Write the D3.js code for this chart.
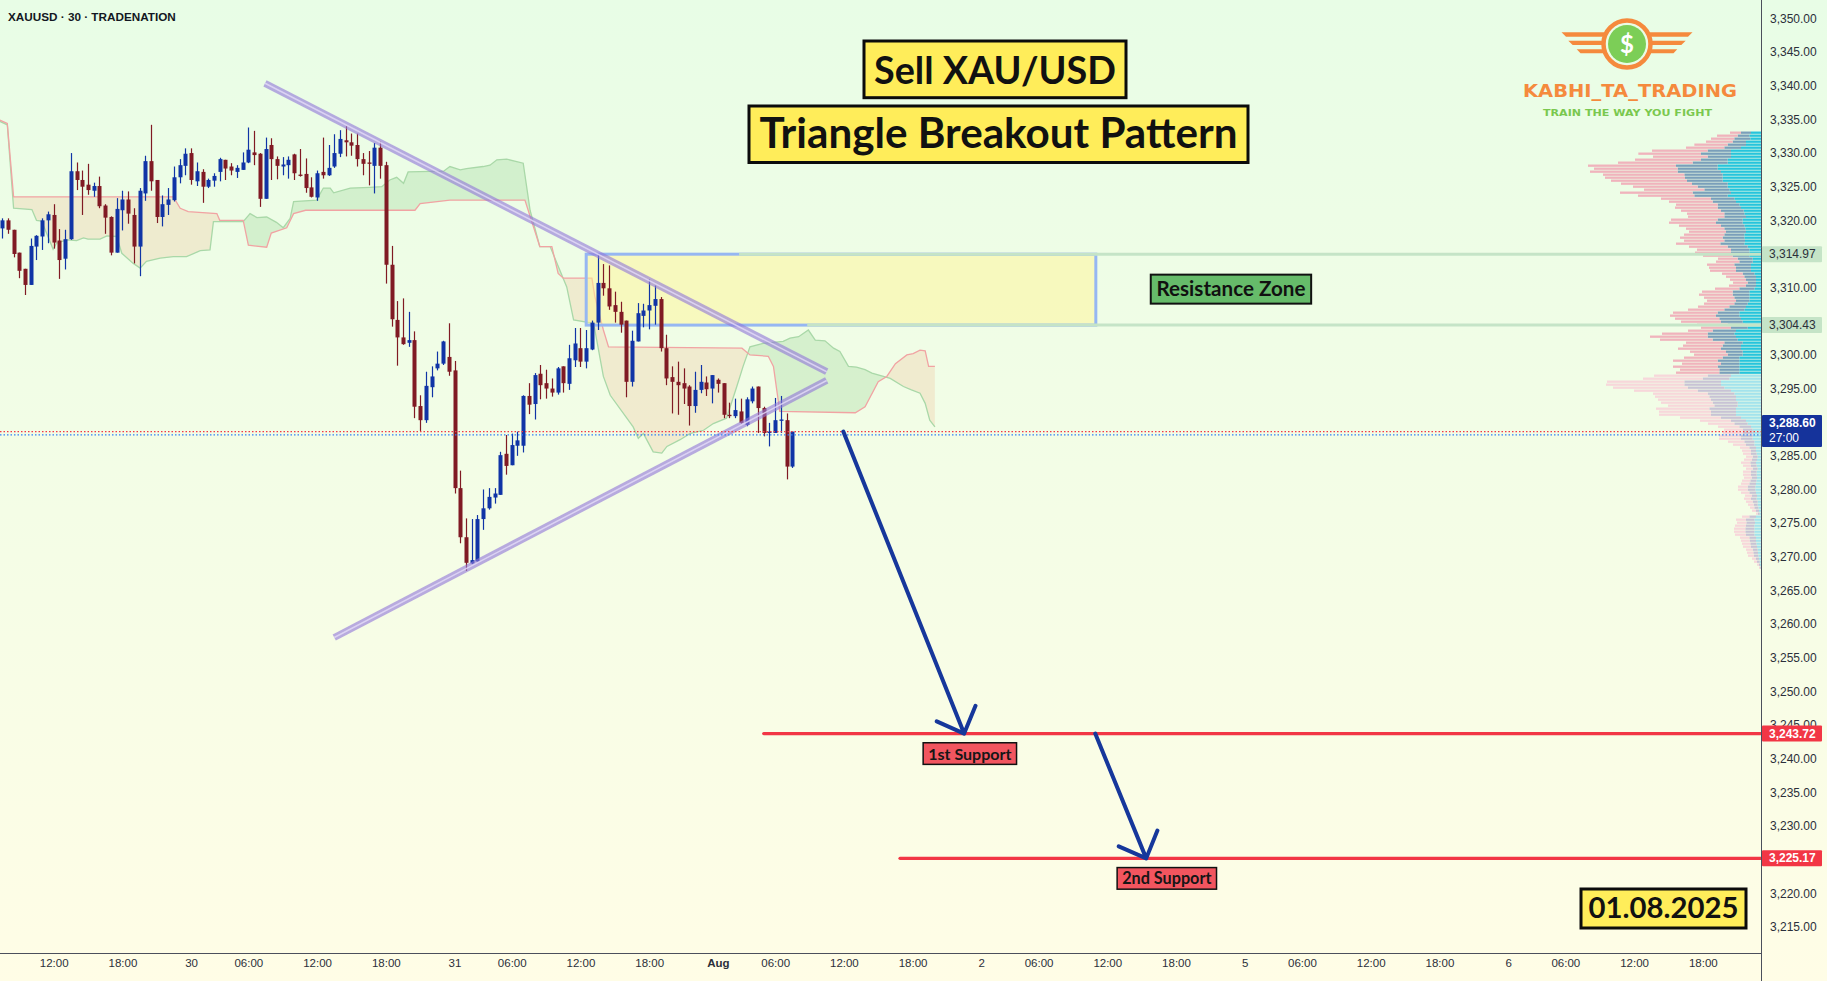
<!DOCTYPE html>
<html>
<head>
<meta charset="utf-8">
<script src="https://cdn.jsdelivr.net/npm/d3@7"></script>
<style>
  html, body { margin: 0; padding: 0; overflow: hidden; background: #fff; }
  svg { display: block; }
</style>
</head>
<body>
<svg id="chart" width="1827" height="981"></svg>
<script>
// ---- data ----
const firstBar = -33; // bar index of the first candle, 0 = start of the "30" session

const candleOpen = [
  3318.8,3320.0,3318.6,3315.2,3312.8,3310.4,3316.1,3317.6,3320.0,3320.8,
  3317.0,3314.3,3317.2,3327.3,3326.0,3325.3,3324.4,3325.1,3322.2,3320.5,
  3315.2,3321.5,3323.1,3320.8,3316.1,3324.0,3328.8,3326.0,3320.5,3322.3,
  3323.0,3326.4,3328.1,
  3330.0,3325.8,3327.2,3325.0,3325.9,3327.2,3329.0,3328.0,3327.2,3327.5,
  3328.6,3330.1,3329.9,3323.2,3331.2,3329.1,3328.0,3328.2,3329.8,3326.8,
  3326.9,3324.9,3323.4,3327.2,3326.7,3328.0,3329.9,3331.9,3331.6,3331.2,
  3329.1,3328.6,3328.1,3330.8,3328.2,3313.4,3305.2,3302.6,3301.8,3302.2,
  3292.4,3290.3,3295.2,3298.0,3298.7,3299.7,3297.7,3280.2,3272.9,3269.0,
  3269.3,3275.6,3277.2,3278.8,3279.2,3285.3,3283.6,3286.5,3286.5,3293.9,
  3292.7,3297.2,3295.8,3295.0,3294.4,3298.3,3295.7,3299.2,3301.0,3299.0,
  3300.8,3304.8,3310.7,3309.9,3307.4,3306.4,3305.1,3296.0,3302.0,3305.8,
  3306.6,3307.3,3308.3,3301.0,3296.7,3296.0,3295.8,3295.3,3292.4,3294.8,
  3295.9,3295.0,3296.3,3295.8,3291.1,3290.9,3291.6,3289.6,3293.1,3295.3,
  3292.1,3288.4,3288.4,3290.2,3290.3,3283.4
];
const candleHigh = [
  3320.3,3320.3,3318.6,3315.2,3312.8,3317.3,3317.8,3320.3,3321.3,3322.4,
  3318.7,3318.6,3330.0,3328.6,3327.4,3328.4,3325.6,3326.5,3322.4,3320.6,
  3323.3,3324.4,3324.3,3321.8,3324.8,3329.6,3334.2,3326.0,3323.7,3324.8,
  3328.0,3329.1,3330.7,
  3330.7,3328.6,3327.6,3326.2,3327.0,3329.3,3329.0,3328.5,3328.2,3330.1,
  3333.8,3333.3,3330.0,3332.3,3332.2,3329.5,3329.4,3329.5,3329.9,3330.6,
  3329.2,3326.4,3327.4,3332.3,3331.2,3332.8,3333.4,3334.0,3332.9,3332.9,
  3330.0,3330.3,3331.5,3331.7,3328.7,3316.2,3308.0,3308.4,3306.4,3303.5,
  3294.0,3297.5,3298.3,3300.5,3302.1,3304.7,3299.1,3282.8,3275.7,3275.6,
  3276.2,3280.0,3280.2,3280.2,3285.6,3288.1,3288.3,3288.6,3294.0,3295.8,
  3297.3,3298.5,3297.8,3296.5,3298.2,3298.3,3301.5,3304.0,3304.0,3303.7,
  3305.1,3314.9,3313.5,3313.3,3309.4,3307.9,3305.1,3303.6,3307.7,3307.6,
  3311.2,3310.3,3308.6,3303.0,3298.3,3299.0,3298.0,3295.5,3297.5,3298.5,
  3296.8,3297.0,3296.5,3295.8,3292.9,3293.5,3293.5,3293.7,3295.3,3295.3,
  3292.3,3289.9,3293.6,3293.9,3291.3,3288.6
];
const candleLow = [
  3317.3,3318.0,3314.5,3311.4,3308.9,3310.4,3314.1,3315.6,3316.6,3315.8,
  3311.3,3312.7,3317.1,3324.5,3320.8,3323.8,3323.5,3321.8,3318.0,3314.8,
  3315.2,3318.5,3319.5,3313.6,3311.7,3322.9,3324.4,3319.6,3319.1,3320.8,
  3322.8,3325.5,3326.7,
  3325.3,3325.1,3322.6,3324.8,3325.0,3325.8,3326.0,3326.7,3326.3,3327.5,
  3328.5,3328.2,3322.0,3323.2,3326.0,3326.1,3326.7,3326.2,3326.0,3326.5,
  3324.1,3323.4,3322.9,3326.2,3326.6,3327.8,3329.4,3329.5,3329.6,3328.0,
  3326.7,3325.2,3324.0,3326.2,3310.6,3304.2,3298.4,3301.5,3301.2,3290.6,
  3288.7,3289.9,3293.7,3297.7,3298.5,3296.9,3279.4,3272.0,3267.9,3268.9,
  3269.3,3274.0,3277.0,3277.9,3279.2,3282.2,3283.6,3285.0,3285.5,3291.2,
  3290.4,3293.4,3293.5,3293.8,3294.1,3294.4,3294.8,3298.2,3298.2,3298.0,
  3300.7,3303.7,3308.8,3306.7,3304.8,3303.3,3293.7,3295.3,3302.0,3304.1,
  3303.8,3304.5,3300.5,3295.5,3291.3,3291.1,3292.7,3289.5,3291.4,3294.3,
  3293.9,3292.8,3294.4,3290.6,3290.6,3290.6,3289.8,3289.4,3292.8,3288.4,
  3287.9,3286.4,3288.4,3288.4,3281.5,3283.2
];
const candleClose = [
  3320.0,3318.6,3315.0,3312.5,3310.4,3316.2,3317.7,3320.0,3320.9,3316.7,
  3314.1,3317.2,3327.3,3326.0,3325.0,3324.5,3325.1,3322.1,3320.4,3315.2,
  3321.7,3323.1,3321.0,3316.1,3324.4,3328.8,3325.8,3320.5,3322.4,3323.1,
  3326.4,3328.2,3329.9,
  3326.0,3327.3,3325.0,3326.0,3326.6,3329.1,3327.7,3327.4,3327.8,3328.6,
  3330.5,3329.7,3323.2,3330.6,3329.1,3328.1,3328.3,3329.0,3327.0,3326.6,
  3324.8,3323.5,3327.0,3326.7,3327.8,3330.0,3332.1,3331.6,3331.1,3329.1,
  3328.4,3328.4,3330.8,3328.1,3313.4,3305.3,3302.6,3301.6,3302.2,3292.3,
  3290.3,3295.4,3296.8,3298.7,3302.0,3297.5,3280.2,3272.9,3269.1,3269.5,
  3275.6,3277.2,3278.9,3279.4,3285.1,3283.5,3286.6,3287.3,3293.9,3292.6,
  3297.0,3295.5,3295.0,3294.4,3298.0,3295.8,3299.5,3301.7,3299.0,3301.0,
  3304.8,3310.7,3309.9,3307.2,3306.4,3304.5,3296.0,3302.1,3306.2,3306.6,
  3307.4,3308.3,3301.0,3296.5,3296.0,3295.5,3295.0,3292.4,3294.8,3296.0,
  3294.9,3297.0,3295.7,3291.1,3290.9,3291.8,3289.9,3293.4,3295.0,3292.1,
  3288.4,3288.6,3290.3,3290.4,3283.4,3288.6
];

// Ichimoku cloud edges as [bar, price] vertices
const spanA = [
  [-33.4,3334.7],[-32.1,3334.2],[-31.0,3321.8],[-27.8,3321.6],[-27.0,3320.0],[-26.1,3319.9],
  [-24.1,3315.7],[-23.5,3316.6],[-21.7,3317.1],[-20.0,3317.0],[-18.8,3317.4],[-18.0,3317.2],
  [-15.9,3317.2],[-14.7,3317.7],[-13.0,3317.6],[-12.1,3315.1],[-10.1,3313.6],[-8.9,3312.9],
  [-7.8,3313.9],[-5.4,3314.4],[-3.1,3314.6],[-0.8,3314.6],[1.6,3315.5],[3.3,3315.6],
  [3.9,3319.8],[9.1,3319.8],[10.3,3321.0],[11.5,3320.4],[13.2,3320.5],[14.9,3319.7],
  [16.1,3318.9],[17.3,3320.3],[17.9,3322.8],[21.9,3323.0],[23.1,3324.8],[24.3,3324.8],
  [24.9,3324.1],[27.8,3324.8],[31.2,3324.9],[33.3,3325.0],[34.7,3326.0],[35.9,3326.4],
  [37.1,3325.5],[37.9,3327.2],[44.1,3327.3],[45.2,3328.0],[47.0,3327.5],[48.1,3327.7],
  [51.0,3328.0],[52.2,3328.2],[53.4,3329.0],[55.1,3329.1],[58.0,3328.5],[59.2,3321.5],
  [60.9,3316.1],[62.7,3316.1],[65.6,3310.1],[66.8,3305.2],[70.3,3304.7],[72.0,3296.8],
  [73.2,3294.0],[77.2,3289.3],[78.1,3287.6],[79.0,3288.3],[80.7,3285.6],[82.2,3285.4],
  [83.1,3286.4],[85.4,3287.4],[87.1,3288.3],[89.5,3288.8],[91.2,3289.8],[93.5,3290.6],
  [95.3,3295.3],[96.4,3298.3],[97.6,3301.2],[99.9,3301.7],[103.4,3302.0],[104.6,3302.5],
  [106.1,3302.7],[107.8,3303.7],[109.0,3302.2],[110.7,3302.1],[112.2,3301.0],[113.3,3300.5],
  [114.8,3298.3],[116.2,3298.2],[117.7,3297.8],[118.9,3297.3],[120.9,3296.8],[122.1,3296.5],
  [124.4,3295.3],[125.8,3294.8],[127.3,3294.3],[128.2,3292.8],[129.0,3290.3],[129.9,3289.3]
];
const spanB = [
  [-33.4,3334.9],[-32.1,3334.4],[-31.0,3323.5],[-3.1,3323.5],[-1.9,3321.8],[-0.5,3321.3],
  [4.5,3321.0],[5.0,3320.0],[9.1,3320.0],[10.0,3316.3],[13.2,3316.0],[14.0,3318.1],
  [16.7,3318.9],[17.9,3321.0],[20.0,3321.5],[39.1,3321.5],[40.0,3322.5],[45.2,3323.0],
  [58.3,3323.0],[59.2,3320.6],[60.9,3316.1],[63.0,3316.1],[64.1,3312.1],[65.0,3311.4],
  [70.0,3311.4],[70.5,3308.7],[72.0,3303.7],[72.9,3301.2],[96.2,3301.0],[97.6,3300.0],
  [100.8,3299.8],[101.7,3298.3],[102.8,3291.6],[116.0,3291.4],[117.7,3292.3],[120.0,3296.0],
  [121.5,3296.8],[123.0,3298.7],[125.0,3300.0],[126.1,3300.2],[127.3,3300.7],[128.2,3300.6],
  [128.8,3298.3],[129.9,3298.3]
];

// volume profile rows (top row price, row step) and volumes per row
const vpTopPrice = 3333.03;
const vpRowStep = 0.4459;
const vpValueAreaRows = 81;
const vpDown = [
  33,62,70,80,100,115,167,188,164,198, 224,264,251,263,244,240,228,213,194,181,
  218,169,150,131,125,128,120,112,109,140, 141,126,115,111,121,128,121,133,116,102,
  108,89,59,70,82,81,78,62,55,48, 44,51,73,92,101,91,87,91,94,109,
  134,138,133,120,92,90,74,137,173,158, 115,119,129,108,101,116,134,117,134,118,
  130,161,179,232,235,224,191,164,163,159, 155,139,160,156,156,123,93,79,64,56,
  59,66,66,49,39,28,27,24,20,24, 28,24,20,24,24,23,25,25,29,29,
  25,21,21,20,17,13,12,5,22,30, 28,33,34,34,33,28,26,25,24,20,
  19,18,12,9,5,3
];
const vpMid = [
  30,35,48,40,55,50,70,90,70,80, 105,125,120,130,115,113,107,107,90,75,
  115,100,70,70,65,70,68,60,65,75, 80,70,63,60,60,65,62,72,60,55,
  55,50,45,40,50,45,45,35,35,30, 25,30,45,50,50,45,40,40,50,60,
  65,70,65,65,50,50,70,80,85,75, 55,55,60,50,45,50,65,55,65,60,
  60,70,80,110,110,110,100,80,80,75, 75,70,80,75,75,60,45,40,35,30,
  30,35,35,30,25,20,15,17,15,15, 17,17,15,17,17,16,18,20,23,23,
  20,15,17,15,12,12,9,6,20,25, 26,25,27,27,25,20,19,18,18,15,
  14,13,9,8,4,2
];
const vpUp = [
  30,35,32,45,45,60,90,90,90,100, 100,130,130,120,115,115,115,100,100,95,
  90,100,80,75,65,60,52,50,45,55, 55,50,47,45,50,50,48,50,40,35,
  35,35,25,25,30,30,30,20,15,15, 15,15,20,35,35,35,35,40,45,50,
  65,65,60,55,50,40,75,80,75,70, 55,60,60,55,55,65,65,65,65,65,
  65,90,95,120,120,110,90,80,75,75, 70,70,75,75,75,60,45,40,30,25,
  25,25,25,20,20,15,15,13,10,12, 15,13,10,13,13,12,14,15,17,17,
  15,12,13,10,10,8,6,4,15,20, 18,20,20,20,20,15,15,14,12,10,
  9,8,6,4,3,1
];

// time axis
const tickBars = [-24,-12,0,10,22,34,46,56,68,80,92,102,114,126,138,148,160,172,184,194,206,218,230,240,252,264];
const tickLabels = ["12:00","18:00","30","06:00","12:00","18:00","31","06:00","12:00","18:00","Aug","06:00",
  "12:00","18:00","2","06:00","12:00","18:00","5","06:00","12:00","18:00","6","06:00","12:00","18:00"];

// price axis
const priceTicks = [3215,3220,3225,3230,3235,3240,3245,3250,3255,3260,3265,3270,3275,3280,3285,
  3290,3295,3300,3305,3310,3315,3320,3325,3330,3335,3340,3345,3350];

// drawings
const lastPrice = 3288.60;
const countdown = "27:00";
const zoneTop = 3314.97, zoneBottom = 3304.43;
const zoneBars = [69, 158];
const zoneRayFrom = [95.7, 107.6];
const upperTrend = [[12.9, 3340.37], [111.0, 3297.5]];
const lowerTrend = [[25.0, 3258.0], [111.0, 3296.2]];
const supportPrices = [3243.72, 3225.17];
const supportFrom = [100, 123.8];
const supportNames = ["1st Support", "2nd Support"];
const arrowLegs = [
  [[113.9, 3288.6], [135.0, 3243.72]],
  [[157.9, 3243.72], [166.8, 3225.17]]
];

// ---- drawing ----
const svg = d3.select("#chart");
const W = 1827, H = 981;
const plotRight = 1761, plotBottom = 953;
const uiFont = "'Liberation Sans', Arial, sans-serif";
const titleFont = "Lato, 'Open Sans', sans-serif";

const x = d3.scaleLinear().domain([0, 230]).range([191.1, 1508.1]);
const y = d3.scaleLinear().domain([3215, 3350]).range([926.8, 18.5]);

const defs = svg.append("defs");
const grad = defs.append("linearGradient").attr("id", "bg")
  .attr("x1", 0).attr("y1", 0).attr("x2", 0).attr("y2", 1);
grad.append("stop").attr("offset", "0%").attr("stop-color", "#e8fde6");
grad.append("stop").attr("offset", "100%").attr("stop-color", "#fffde6");
svg.append("rect").attr("width", W).attr("height", H).attr("fill", "url(#bg)");

defs.append("clipPath").attr("id", "plot")
  .append("rect").attr("width", plotRight).attr("height", plotBottom);

function fitWidth(sel, target) {
  const fs = parseFloat(sel.attr("font-size"));
  const w = sel.node().getComputedTextLength();
  if (w > 0) sel.attr("font-size", fs * target / w);
  return sel;
}

// volume profile
const vol = d3.scaleLinear().domain([0, 600]).range([0, 200]);
const vpRows = vpDown.map((d, k) => ({
  price: vpTopPrice - k * vpRowStep,
  up: vpUp[k], mid: vpMid[k], down: d, va: k < vpValueAreaRows
}));
const vpG = svg.append("g");
vpRows.forEach(r => {
  const segs = [
    [0, r.up, r.va ? "#26c4dc" : "#a3e3ec"],
    [r.up, r.up + r.mid, r.va ? "#7a9fba" : "#c8c3d5"],
    [r.up + r.mid, r.up + r.mid + r.down, r.va ? "#f0b3bc" : "#f7d7da"]
  ];
  segs.forEach(s => {
    vpG.append("rect")
      .attr("x", plotRight - vol(s[1]))
      .attr("width", vol(s[1] - s[0]))
      .attr("y", y(r.price) - 1.15)
      .attr("height", 2.3)
      .attr("fill", s[2]);
  });
});

// ichimoku cloud
const plotG = svg.append("g").attr("clip-path", "url(#plot)");
const areaUp = d3.area().x(d => x(d[0])).y0(d => y(d[1])).y1(0);
const areaDown = d3.area().x(d => x(d[0])).y0(d => y(d[1])).y1(plotBottom);
defs.append("clipPath").attr("id", "belowA").append("path").attr("d", areaDown(spanA));
defs.append("clipPath").attr("id", "belowB").append("path").attr("d", areaDown(spanB));
plotG.append("g").attr("clip-path", "url(#belowA)")
  .append("path").attr("d", areaUp(spanB)).attr("fill", "rgba(120,195,120,0.22)");
plotG.append("g").attr("clip-path", "url(#belowB)")
  .append("path").attr("d", areaUp(spanA)).attr("fill", "rgba(240,205,172,0.38)");
const line = d3.line().x(d => x(d[0])).y(d => y(d[1]));
plotG.append("path").attr("d", line(spanA)).attr("fill", "none")
  .attr("stroke", "#a9d8a8").attr("stroke-width", 1.3);
plotG.append("path").attr("d", line(spanB)).attr("fill", "none")
  .attr("stroke", "#f1a3a3").attr("stroke-width", 1.3);

// resistance zone box
plotG.append("rect")
  .attr("x", x(zoneBars[0])).attr("width", x(zoneBars[1]) - x(zoneBars[0]))
  .attr("y", y(zoneTop)).attr("height", y(zoneBottom) - y(zoneTop))
  .attr("fill", "rgba(255,246,150,0.5)")
  .attr("stroke", "#96b7f2").attr("stroke-width", 3);

// candles
const candles = candleOpen.map((o, k) => ({
  i: firstBar + k, o, h: candleHigh[k], l: candleLow[k], c: candleClose[k]
}));
const upColor = "#1034a6", downColor = "#801a24";
const cg = plotG.append("g");
cg.selectAll("line").data(candles).join("line")
  .attr("x1", d => Math.round(x(d.i)) + 0.5).attr("x2", d => Math.round(x(d.i)) + 0.5)
  .attr("y1", d => y(d.h)).attr("y2", d => y(d.l))
  .attr("stroke", d => d.c >= d.o ? upColor : downColor).attr("stroke-width", 1.2);
cg.selectAll("rect").data(candles).join("rect")
  .attr("x", d => Math.round(x(d.i)) - 1.5).attr("width", 4)
  .attr("y", d => y(Math.max(d.o, d.c)))
  .attr("height", d => Math.max(1.2, y(Math.min(d.o, d.c)) - y(Math.max(d.o, d.c))))
  .attr("fill", d => d.c >= d.o ? upColor : downColor);

// zone edge rays
[zoneTop, zoneBottom].forEach((p, k) => {
  plotG.append("line")
    .attr("x1", x(zoneRayFrom[k])).attr("x2", plotRight)
    .attr("y1", y(p)).attr("y2", y(p))
    .attr("stroke", "#c5e4c7").attr("stroke-width", 3);
});

// triangle
[upperTrend, lowerTrend].forEach(t => {
  plotG.append("path").attr("d", line(t)).attr("fill", "none")
    .attr("stroke", "#9277d8").attr("stroke-opacity", 0.62).attr("stroke-width", 7);
  plotG.append("path").attr("d", line(t)).attr("fill", "none")
    .attr("stroke", "#e2d9f7").attr("stroke-opacity", 0.85).attr("stroke-width", 1.5);
});

// current price lines
plotG.append("line").attr("x1", 0).attr("x2", plotRight)
  .attr("y1", y(lastPrice)).attr("y2", y(lastPrice))
  .attr("stroke", "#f23645").attr("stroke-width", 1.4).attr("stroke-dasharray", "1.5 2");
plotG.append("line").attr("x1", 0).attr("x2", plotRight)
  .attr("y1", y(lastPrice) + 3.3).attr("y2", y(lastPrice) + 3.3)
  .attr("stroke", "#2f7df6").attr("stroke-width", 1.4).attr("stroke-dasharray", "1.5 2");

// supports
supportPrices.forEach((p, k) => {
  plotG.append("line")
    .attr("x1", x(supportFrom[k])).attr("x2", plotRight)
    .attr("y1", y(p)).attr("y2", y(p))
    .attr("stroke", "#f23645").attr("stroke-width", 3.2).attr("stroke-linecap", "round");
});

// arrows
arrowLegs.forEach(a => {
  const x1 = x(a[0][0]), y1 = y(a[0][1]), x2 = x(a[1][0]), y2 = y(a[1][1]);
  const ang = Math.atan2(y1 - y2, x1 - x2), L = 30, spread = 0.77;
  const h1 = [x2 + L * Math.cos(ang - spread), y2 + L * Math.sin(ang - spread)];
  const h2 = [x2 + L * Math.cos(ang + spread), y2 + L * Math.sin(ang + spread)];
  plotG.append("path")
    .attr("d", `M${x1},${y1}L${x2},${y2}M${h1[0]},${h1[1]}L${x2},${y2}L${h2[0]},${h2[1]}`)
    .attr("fill", "none").attr("stroke", "#16379b").attr("stroke-width", 4)
    .attr("stroke-linecap", "round").attr("stroke-linejoin", "round");
});

// support tags
const supportTagAt = [136.0, 170.4];
const supportTagWidth = [93.4, 99.4];
supportPrices.forEach((p, k) => {
  const cx = x(supportTagAt[k]), top = y(p) + 9.2, w = supportTagWidth[k];
  svg.append("rect").attr("x", cx - w / 2).attr("y", top).attr("width", w).attr("height", 21.6)
    .attr("fill", "#f2555f").attr("stroke", "#111").attr("stroke-width", 1.5);
  const t = svg.append("text").attr("x", cx).attr("y", top + 16.8)
    .attr("text-anchor", "middle").attr("font-family", titleFont).attr("font-size", 15)
    .attr("font-weight", 700).attr("fill", "#161616").text(supportNames[k]);
  fitWidth(t, w - 10);
});

// resistance zone tag
{
  const cx = x(181.6), cy = y((zoneTop + zoneBottom) / 2) - 0.5;
  svg.append("rect").attr("x", cx - 80.2).attr("y", cy - 14.5).attr("width", 160.4).attr("height", 29)
    .attr("fill", "#66bb6a").attr("stroke", "#111").attr("stroke-width", 2);
  const t = svg.append("text").attr("x", cx).attr("y", cy + 6.8)
    .attr("text-anchor", "middle").attr("font-family", titleFont).attr("font-size", 19)
    .attr("font-weight", 700).attr("fill", "#111").text("Resistance Zone");
  fitWidth(t, 149);
}

// axes
svg.append("line").attr("x1", plotRight + 0.5).attr("x2", plotRight + 0.5).attr("y1", 0).attr("y2", H)
  .attr("stroke", "#4b4f5c").attr("stroke-width", 1);
svg.append("line").attr("x1", 0).attr("x2", plotRight).attr("y1", plotBottom + 0.5).attr("y2", plotBottom + 0.5)
  .attr("stroke", "#4b4f5c").attr("stroke-width", 1);

const yAxis = d3.axisRight(y).tickValues(priceTicks).tickFormat(d3.format(",.2f"))
  .tickSize(0).tickPadding(9);
const gy = svg.append("g").attr("transform", `translate(${plotRight},0)`).call(yAxis);
gy.select(".domain").remove();
gy.attr("font-size", 12).attr("font-family", uiFont);
gy.selectAll("text").attr("fill", "#2b2f3a");

const xAxis = d3.axisBottom(x).tickValues(tickBars).tickFormat((d, k) => tickLabels[k])
  .tickSize(0).tickPadding(6);
const gx = svg.append("g").attr("transform", `translate(0,${plotBottom})`).call(xAxis);
gx.select(".domain").remove();
gx.attr("font-size", 11.5).attr("font-family", uiFont);
gx.selectAll("text").attr("fill", "#2b2f3a")
  .attr("font-weight", (d, k) => tickLabels[k] === "Aug" ? 700 : 400);

// price tags on the scale
function priceTag(p, fill, color, lines, bold) {
  const h = lines.length > 1 ? 32 : 16;
  const cy = y(p);
  const top = lines.length > 1 ? cy - 16.5 : cy - h / 2;
  svg.append("rect").attr("x", plotRight + 1).attr("y", top).attr("width", 60).attr("height", h)
    .attr("rx", 1).attr("fill", fill);
  lines.forEach((s, k) => {
    svg.append("text").attr("x", plotRight + 8).attr("y", top + 12 + k * 15)
      .attr("font-family", uiFont).attr("font-size", 12)
      .attr("font-weight", bold && k === 0 ? 700 : 400)
      .attr("fill", color).text(s);
  });
}
const fmt = d3.format(",.2f");
priceTag(zoneTop, "#c5e4c7", "#2b2f3a", [fmt(zoneTop)], false);
priceTag(zoneBottom, "#c5e4c7", "#2b2f3a", [fmt(zoneBottom)], false);
priceTag(lastPrice, "#15339b", "#ffffff", [fmt(lastPrice), countdown], true);
priceTag(supportPrices[0], "#f23645", "#ffffff", [fmt(supportPrices[0])], true);
priceTag(supportPrices[1], "#f23645", "#ffffff", [fmt(supportPrices[1])], true);

// symbol caption
{
  const t = svg.append("text").attr("x", 8).attr("y", 20.5)
    .attr("font-family", uiFont).attr("font-size", 12.5).attr("font-weight", 700)
    .attr("fill", "#131722").text("XAUUSD · 30 · TRADENATION");
  fitWidth(t, 168);
}

// title boxes
function titleBox(x0, y0, w, h, text, baseline, textWidth) {
  svg.append("rect").attr("x", x0).attr("y", y0).attr("width", w).attr("height", h)
    .attr("fill", "#ffed5a").attr("stroke", "#0b0b0b").attr("stroke-width", 3);
  const t = svg.append("text").attr("x", x0 + w / 2).attr("y", baseline)
    .attr("text-anchor", "middle").attr("font-family", titleFont)
    .attr("font-size", 40).attr("font-weight", 700).attr("fill", "#111").text(text);
  fitWidth(t, textWidth);
}
titleBox(864, 41, 262, 56.7, "Sell XAU/USD", 83.5, 242);
titleBox(749, 106, 499, 56.5, "Triangle Breakout Pattern", 148.3, 478);

// date box
{
  svg.append("rect").attr("x", 1581).attr("y", 889).attr("width", 165).attr("height", 39)
    .attr("fill", "#ffed5a").attr("stroke", "#0b0b0b").attr("stroke-width", 3);
  const t = svg.append("text").attr("x", 1663.5).attr("y", 918)
    .attr("text-anchor", "middle").attr("font-family", titleFont)
    .attr("font-size", 27).attr("font-weight", 700).attr("fill", "#111").text("01.08.2025");
  fitWidth(t, 150);
}

// logo
{
  const g = svg.append("g");
  const orange = "#f58a3d", cx = 1627, cy = 44;
  const stripes = [[32.3, 36.7, 1561.5, 1566, 1604], [40.7, 45, 1568.3, 1572.7, 1603], [49.3, 53.3, 1576.7, 1580.5, 1605]];
  stripes.forEach(s => {
    const [t, b, lt, lb, r] = s;
    g.append("path").attr("d", `M${lt},${t}L${r},${t}L${r},${b}L${lb},${b}Z`).attr("fill", orange);
    const m = v => 2 * cx - v;
    g.append("path").attr("d", `M${m(lt)},${t}L${m(r)},${t}L${m(r)},${b}L${m(lb)},${b}Z`).attr("fill", orange);
  });
  g.append("circle").attr("cx", cx).attr("cy", cy).attr("r", 23.5).attr("fill", "#eafce6")
    .attr("stroke", orange).attr("stroke-width", 4.5);
  g.append("circle").attr("cx", cx).attr("cy", cy).attr("r", 19).attr("fill", "#7cce57");
  g.append("text").attr("x", cx).attr("y", cy + 8.5).attr("text-anchor", "middle")
    .attr("font-family", titleFont).attr("font-weight", 700).attr("font-size", 24)
    .attr("fill", "#ffffff").text("$");
  g.append("text").attr("x", 1523).attr("y", 97.3)
    .attr("font-family", "'DejaVu Sans', sans-serif").attr("font-weight", 700).attr("font-size", 17)
    .attr("textLength", 214).attr("lengthAdjust", "spacingAndGlyphs")
    .attr("fill", orange).text("KABHI_TA_TRADING");
  g.append("text").attr("x", 1543).attr("y", 115.7)
    .attr("font-family", "'DejaVu Sans', sans-serif").attr("font-weight", 700).attr("font-size", 9)
    .attr("textLength", 169).attr("lengthAdjust", "spacingAndGlyphs")
    .attr("fill", "#7ac84f").text("TRAIN THE WAY YOU FIGHT");
}
</script>
</body>
</html>
